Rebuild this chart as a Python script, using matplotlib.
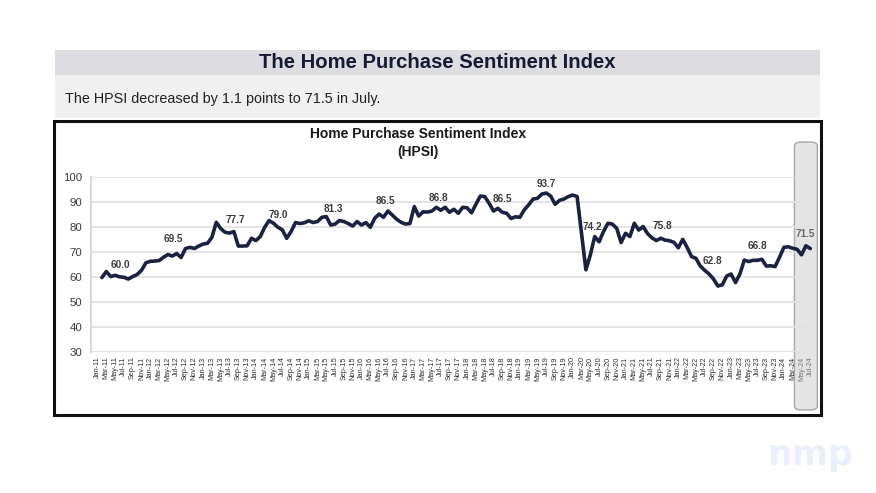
import numpy as np
import matplotlib
matplotlib.use('Agg')
import matplotlib.pyplot as plt
from matplotlib.patches import Rectangle, FancyBboxPatch

plt.rcParams['font.family'] = ['Liberation Sans', 'DejaVu Sans']

# ---------------- data ----------------
month_names = ['Jan', 'Feb', 'Mar', 'Apr', 'May', 'Jun',
               'Jul', 'Aug', 'Sep', 'Oct', 'Nov', 'Dec']
years = list(range(2011, 2025))
categories = [f"{m}-{y % 100:02d}" for y in years for m in month_names][:163]  # Jan-11 .. Jul-24

hpsi_2011 = [np.nan, 59.9, 62.3, 60.3, 60.8, 60.2, 60.0, 59.3, 60.3, 61.1, 62.8, 65.8]
hpsi_2012 = [66.4, 66.5, 66.7, 68.0, 69.1, 68.5, 69.5, 67.9, 71.5, 72.0, 71.5, 72.5]
hpsi_2013 = [73.3, 73.6, 76.0, 82.0, 79.5, 78.0, 77.7, 78.3, 72.5, 72.5, 72.6, 75.6]
hpsi_2014 = [74.7, 76.3, 80.0, 82.7, 81.6, 80.0, 79.0, 75.6, 78.3, 81.9, 81.5, 81.8]
hpsi_2015 = [82.6, 81.9, 82.3, 84.0, 84.3, 80.9, 81.3, 82.7, 82.3, 81.5, 80.5, 82.3]
hpsi_2016 = [80.9, 81.9, 80.0, 83.6, 85.3, 84.0, 86.5, 84.9, 83.2, 82.0, 81.3, 81.5]
hpsi_2017 = [88.3, 84.5, 86.2, 86.1, 86.5, 88.0, 86.8, 88.0, 86.0, 87.2, 85.6, 88.0]
hpsi_2018 = [87.8, 85.8, 89.2, 92.5, 92.3, 89.6, 86.5, 87.6, 86.0, 85.6, 83.5, 84.2]
hpsi_2019 = [84.0, 87.0, 89.0, 91.3, 91.6, 93.3, 93.7, 92.5, 89.2, 90.8, 91.3, 92.3]
hpsi_2020 = [92.9, 92.3, 77.8, 63.0, 68.9, 76.3, 74.2, 78.3, 81.6, 81.3, 79.6, 73.9]
hpsi_2021 = [77.6, 76.3, 81.6, 78.9, 80.3, 77.5, 75.8, 74.7, 75.6, 74.9, 74.6, 74.0]
hpsi_2022 = [71.8, 75.2, 72.0, 68.3, 67.6, 64.5, 62.8, 61.3, 59.3, 56.5, 57.0, 60.5]
hpsi_2023 = [61.3, 57.9, 61.3, 66.9, 66.3, 66.8, 66.8, 67.2, 64.5, 64.6, 64.3, 68.0]
hpsi_2024 = [72.0, 72.2, 71.6, 71.2, 69.0, 72.6, 71.5]

hpsi = np.array(hpsi_2011 + hpsi_2012 + hpsi_2013 + hpsi_2014 + hpsi_2015 +
                hpsi_2016 + hpsi_2017 + hpsi_2018 + hpsi_2019 + hpsi_2020 +
                hpsi_2021 + hpsi_2022 + hpsi_2023 + hpsi_2024, dtype=float)

label_months = [f"Jul-{y % 100:02d}" for y in years]          # annual July call-outs
label_offsets_px = [(-3, 12), (-3, 14.5), (5.5, 13), (-4, 15), (-2, 15), (-2, 10.5),
                    (-2.4, 12), (9, 12), (0.4, 9), (-7, 14.5), (11, 12), (7.6, 9),
                    (0, 14), (-4.6, 15)]

yticks = [30, 40, 50, 60, 70, 80, 90, 100]

title_text = "The Home Purchase Sentiment Index"
subtitle_text = "The HPSI decreased by 1.1 points to 71.5 in July."
chart_title = "Home Purchase Sentiment Index"
chart_title2 = "(HPSI)"

# ---------------- figure ----------------
W, H = 876, 493
fig = plt.figure(figsize=(W / 100, H / 100), dpi=100)
fig.patch.set_facecolor('white')


def fx(px):
    return px / W


def fy(py):
    return 1 - py / H


def frect(x0, y0, x1, y1, **kw):
    r = Rectangle((fx(x0), fy(y1)), fx(x1) - fx(x0), fy(y0) - fy(y1),
                  transform=fig.transFigure, **kw)
    fig.patches.append(r)
    return r


# header bands
frect(55, 50, 820, 75, facecolor='#dcdce1', edgecolor='none', zorder=-5)
frect(55, 75, 820, 118, facecolor='#f0f0f0', edgecolor='none', zorder=-5)
fig.text(fx(437), fy(63), title_text, ha='center', va='center',
         fontsize=14.6, fontweight='bold', color='#161a33')
fig.text(fx(65), fy(99), subtitle_text, ha='left', va='center',
         fontsize=10.4, color='#222222')

# chart box
frect(56, 123, 823, 417, facecolor='#9a9a9a', edgecolor='none', zorder=-4)
frect(54, 121, 821, 415, facecolor='white', edgecolor='#111111', linewidth=2.2, zorder=-3)

fig.text(fx(418), fy(134), chart_title, ha='center', va='center',
         fontsize=10, fontweight='bold', color='#1a1a1a')
fig.text(fx(418), fy(152), chart_title2, ha='center', va='center',
         fontsize=10, fontweight='bold', color='#1a1a1a')

# axes
x0_px, px_per_month = 97.5, 4.4
ax_left_px, ax_right_px = 91, 815
ax_top_px, ax_bot_px = 177.3, 352.3
ax = fig.add_axes([fx(ax_left_px), fy(ax_bot_px),
                   fx(ax_right_px) - fx(ax_left_px), fy(ax_top_px) - fy(ax_bot_px)])
ax.patch.set_alpha(0)

x = np.arange(len(categories))
ax.set_xlim(-(x0_px - ax_left_px) / px_per_month, (ax_right_px - x0_px) / px_per_month)
ax.set_ylim(30, 100)

ax.plot(x, hpsi, color='#1b2240', lw=2.6, solid_joinstyle='round',
        solid_capstyle='round', zorder=3)

ax.set_yticks(yticks)
ax.set_yticklabels([str(v) for v in yticks], fontsize=8.2, color='#3a3a3a')
ax.tick_params(axis='y', length=0, pad=6.5)
ax.set_xticks(x[::2])
ax.set_xticklabels(categories[::2], rotation=90, fontsize=5.2, color='#2e2e2e')
ax.tick_params(axis='x', length=0, pad=3)
for lbl in ax.get_xticklabels()[-2:]:
    lbl.set_color('#7a7a7a')

ax.grid(axis='y', color='#e2e2e2', lw=1.3, zorder=0)
ax.set_axisbelow(True)
for s in ['top', 'right', 'bottom']:
    ax.spines[s].set_visible(False)
ax.spines['left'].set_color('#dadada')
ax.spines['left'].set_linewidth(1.5)

# data call-outs
for i, (lm, (dx, dy)) in enumerate(zip(label_months, label_offsets_px)):
    idx = categories.index(lm)
    col = '#3c3c3c' if i < len(label_months) - 1 else '#6a6a6a'
    ax.annotate(f"{hpsi[idx]:.1f}", (x[idx], hpsi[idx]),
                xytext=(dx * 0.72, dy * 0.72), textcoords='offset points',
                ha='center', va='center', fontsize=7.2, fontweight='bold',
                color=col, zorder=4)

# highlight box for the latest months
fig.canvas.draw()
inv = fig.transFigure.inverted()
hx0 = ax.transData.transform((categories.index('May-24') - 1.6, 0))[0]
hx1 = ax.transData.transform((len(categories) - 1 + 1.6, 0))[0]
(fx0, _), (fx1, _) = inv.transform([(hx0, 0), (hx1, 0)])
hl = FancyBboxPatch((fx0, fy(410)), fx1 - fx0, fy(142) - fy(410),
                    boxstyle='round,pad=0,rounding_size=0.008',
                    transform=fig.transFigure, facecolor='#e4e4e4',
                    edgecolor='#a8a8a8', linewidth=1.0, zorder=-1)
fig.patches.append(hl)

# watermark
fig.text(fx(810), fy(455), 'nmp', ha='center', va='center', fontsize=25,
         fontweight='heavy', family=['DejaVu Sans'], color='#eaf0fb')

fig.savefig('out.png', dpi=100)
